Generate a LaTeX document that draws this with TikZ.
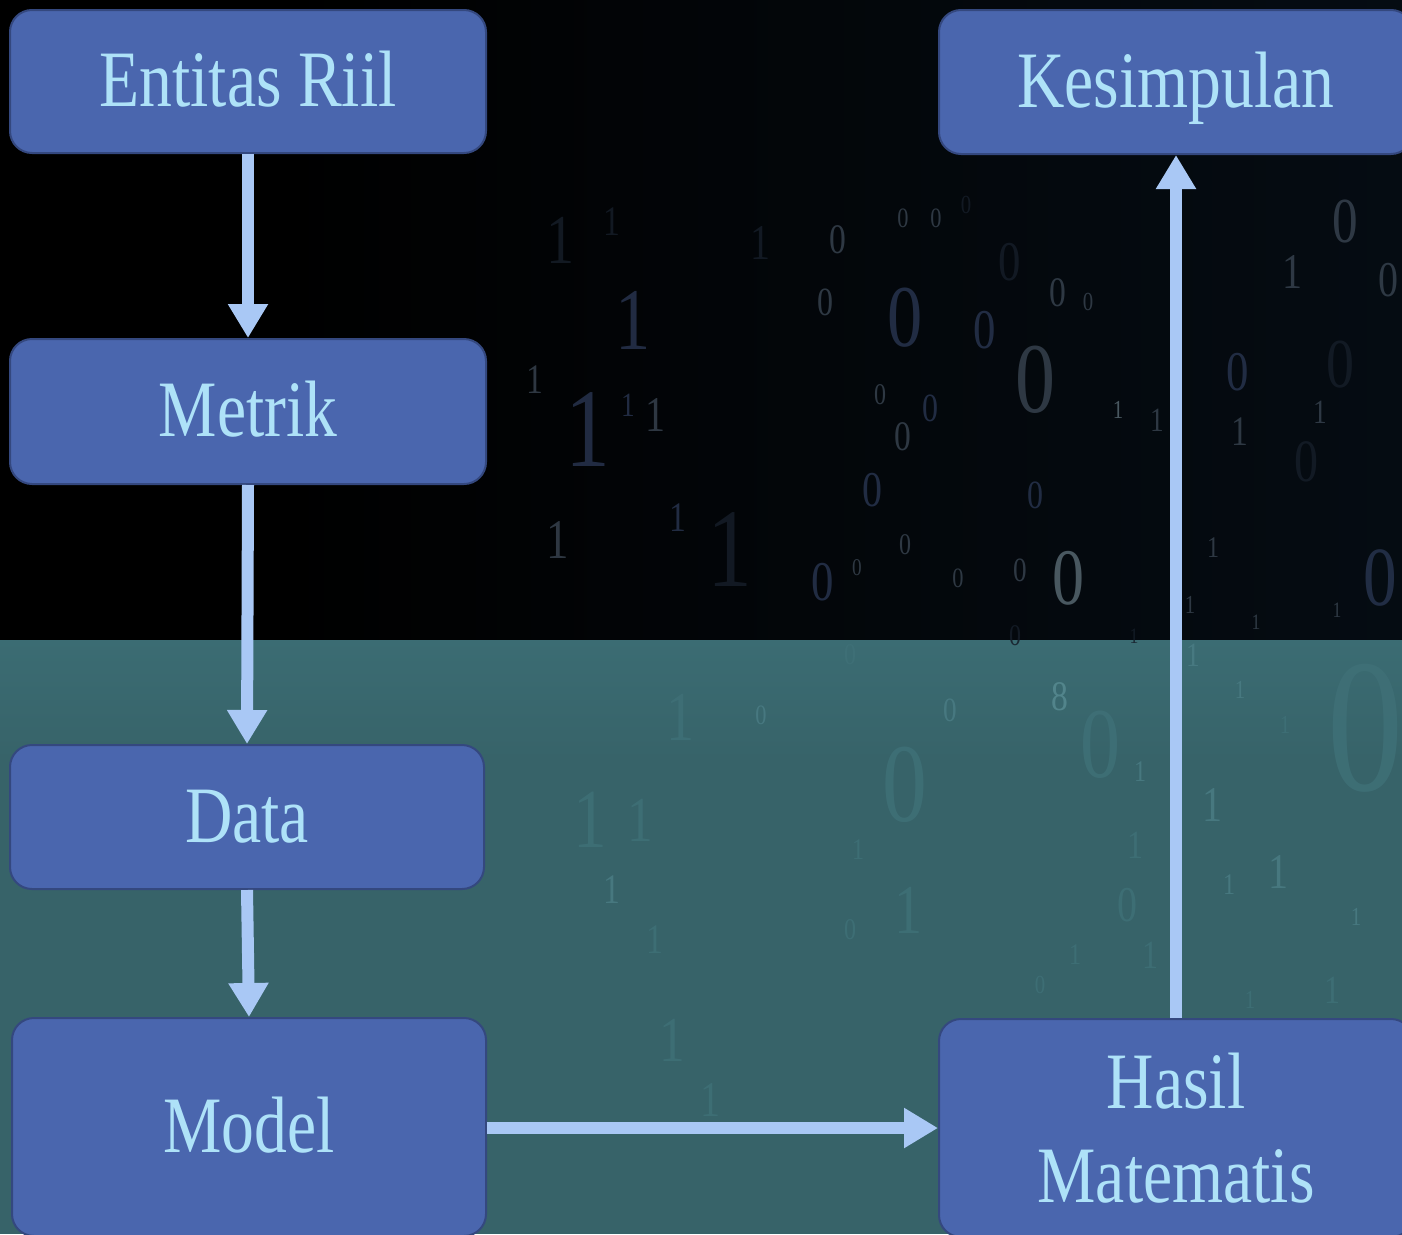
\documentclass[tikz,border=0pt]{standalone}
\usepackage{fontspec}
\setmainfont{Liberation Serif}
\newfontfamily\boxfont{Liberation Serif}[FakeStretch=0.82]
\newfontfamily\digitfont{Liberation Serif}[FakeStretch=0.8]
\usetikzlibrary{arrows.meta}

\definecolor{boxfill}{HTML}{4A66AE}
\definecolor{boxedge}{HTML}{34487F}
\definecolor{boxtext}{HTML}{AEE2F8}
\definecolor{flow}{HTML}{A9C8F5}
\definecolor{sea}{HTML}{376369}
\definecolor{seatop}{HTML}{3B6C73}
\definecolor{nightright}{HTML}{08121C}
\definecolor{dnavy}{HTML}{27334D}
\definecolor{dgrey}{HTML}{36414D}
\definecolor{ddim}{HTML}{151D28}
\definecolor{dpale}{HTML}{56666F}
\definecolor{tlight}{HTML}{4A7C84}
\definecolor{tpale}{HTML}{578A91}
\definecolor{tfaint}{HTML}{3F7077}

% dark sky: black on the left, deep blue-black towards the right
\pgfdeclarehorizontalshading{night}{100bp}{%
  color(0bp)=(black); color(35bp)=(black); color(60bp)=(black!55!nightright);
  color(100bp)=(nightright)}

\tikzset{
  stage/.style={draw=boxedge, line width=2pt, fill=boxfill, rounded corners=22pt,
    text=boxtext, font=\boxfont\fontsize{80}{90}\selectfont, inner sep=0pt},
  oneline/.style={stage, text height=66pt, text depth=16pt},
  flowarrow/.style={draw=flow, line width=12pt,
    -{Triangle[width=38pt,length=34pt]}},
  bit/.style={inner sep=0pt, text opacity=0.85},
}

\begin{document}
\begin{tikzpicture}[x=1pt, y=-1pt]
  \useasboundingbox (0,0) rectangle (1402,1234);
  \clip (0,0) rectangle (1402,1234);

  % night sky upper band and sea-green lower band
  \shade[shading=night] (0,0) rectangle (1402,640);
  \fill[sea] (0,640) rectangle (1402,1234);
  \shade[top color=seatop, bottom color=sea] (0,640) rectangle (1402,760);

  % scattered binary digits
  \foreach \px/\py/\sz/\dg/\cl [count=\k] in {%
    560/240/70/1/ddim, 612/222/42/1/ddim, 760/243/50/1/ddim, 838/240/42/0/dgrey,
    903/218/28/0/dgrey, 936/218/28/0/dgrey, 966/205/26/0/ddim, 1345/222/64/0/dgrey,
    1292/272/50/1/dgrey, 825/302/40/0/dgrey, 905/318/88/0/dnavy, 985/330/56/0/dnavy,
    1058/293/42/0/dgrey, 1088/302/26/0/dgrey, 1010/262/56/0/ddim, 633/320/88/1/dnavy,
    535/380/42/1/dgrey, 588/430/112/1/dnavy, 628/405/34/1/dnavy, 655/415/50/1/dgrey,
    1035/380/100/0/dgrey, 1238/372/56/0/dnavy, 1340/365/70/0/ddim, 880/395/30/0/dgrey,
    903/437/42/0/dgrey, 930/408/40/0/dnavy, 1118/410/26/1/dpale, 1157/420/34/1/dgrey,
    1320/412/34/1/dgrey, 1240/432/42/1/dgrey, 1306/462/60/0/ddim, 872/490/50/0/dnavy,
    1035/495/40/0/dnavy, 558/540/56/1/dgrey, 678/518/42/1/dnavy, 730/550/112/1/ddim,
    1068/578/80/0/dpale, 905/545/30/0/dgrey, 958/578/28/0/dgrey, 1020/570/34/0/dgrey,
    823/582/56/0/dnavy, 1213/548/30/1/dgrey, 1380/578/84/0/dnavy, 1337/610/22/1/dgrey,
    1256/622/22/1/dgrey, 1190/605/26/1/dgrey, 857/568/24/0/dgrey, 1388/280/50/0/dgrey,
    1015/636/30/0/ddim, 1134/636/22/1/ddim,
    1365/728/190/0/tfaint, 680/717/70/1/tfaint, 761/715/28/0/tlight, 950/710/34/0/tlight,
    1060/697/42/8/tpale, 1100/745/100/0/tfaint, 1212/805/50/1/tlight, 590/820/84/1/tfaint,
    640/820/64/1/tfaint, 905/785/112/0/tfaint, 1278/872/50/1/tlight, 612/890/42/1/tlight,
    1127/905/50/0/tfaint, 908/910/70/1/tfaint, 1240/690/26/1/tlight, 1193/655/34/1/tlight,
    850/655/30/0/tfaint, 858/850/30/1/tfaint, 1332/990/40/1/tfaint, 1250/1000/26/1/tfaint,
    1150/955/40/1/tfaint, 1040/985/26/0/tfaint, 655/940/42/1/tfaint, 672/1040/64/1/tfaint,
    1229/885/30/1/tlight, 1356/917/26/1/tlight, 1075/955/30/1/tfaint, 1135/845/40/1/tfaint,
    850/930/30/0/tfaint, 1140/772/30/1/tlight, 1285/725/26/1/tfaint, 710/1100/50/1/tfaint}
    \node[bit, text=\cl, font=\digitfont\fontsize{\sz}{\sz}\selectfont] (bit\k) at (\px,\py) {\dg};

  % stages
  \node[oneline, minimum width=476pt, minimum height=143pt] (riil) at (248,81.5) {Entitas Riil};
  \node[oneline, minimum width=476pt, minimum height=145pt] (metrik) at (248,411.5) {Metrik};
  \node[oneline, minimum width=474pt, minimum height=144pt] (data) at (247,817) {Data};
  \node[oneline, minimum width=474pt, minimum height=218pt] (model) at (249,1127) {Model};
  \node[oneline, minimum width=474pt, minimum height=144pt] (kesimpulan) at (1176,82) {Kesimpulan};
  \node[stage, minimum width=474pt, minimum height=218pt, align=center] (hasil) at (1176,1128)
    {Hasil\\[4pt]Matematis};

  % flow between stages
  \draw[flowarrow] (riil.south) -- (metrik.north);
  \draw[flowarrow] (metrik.south) -- (data.north);
  \draw[flowarrow] (data.south) -- (model.north);
  \draw[flowarrow] (model.east |- 0,1128) -- (hasil.west);
  \draw[flowarrow] (hasil.north) -- (kesimpulan.south);
\end{tikzpicture}
\end{document}
